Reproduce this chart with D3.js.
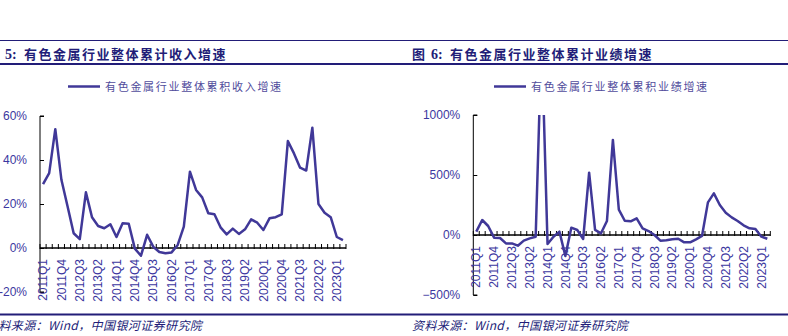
<!DOCTYPE html>
<html>
<head>
<meta charset="utf-8">
<script src="https://cdn.jsdelivr.net/npm/d3@7"></script>
<style>
  html, body { margin: 0; padding: 0; background: #fff; }
  svg { display: block; }
</style>
</head>
<body>
<svg id="chart" width="788" height="336"></svg>
<script>
// Quarterly categories shared by both panels
const quarters = [
  "2011Q1","2011Q2","2011Q3","2011Q4","2012Q1","2012Q2","2012Q3","2012Q4",
  "2013Q1","2013Q2","2013Q3","2013Q4","2014Q1","2014Q2","2014Q3","2014Q4",
  "2015Q1","2015Q2","2015Q3","2015Q4","2016Q1","2016Q2","2016Q3","2016Q4",
  "2017Q1","2017Q2","2017Q3","2017Q4","2018Q1","2018Q2","2018Q3","2018Q4",
  "2019Q1","2019Q2","2019Q3","2019Q4","2020Q1","2020Q2","2020Q3","2020Q4",
  "2021Q1","2021Q2","2021Q3","2021Q4","2022Q1","2022Q2","2022Q3","2022Q4",
  "2023Q1","2023Q2"
];

// Labelled quarters on the category axis (every third quarter)
const quarterTicks = [
  "2011Q1","2011Q4","2012Q3","2013Q2","2014Q1","2014Q4","2015Q3","2016Q2",
  "2017Q1","2017Q4","2018Q3","2019Q2","2020Q1","2020Q4","2021Q3","2022Q2","2023Q1"
];

// 有色金属行业整体累积收入增速 (%)
const revenueGrowth = [
  29, 34, 54, 31, 19, 6.7, 4, 25.3, 14, 10,
  9, 10.8, 5, 11.2, 11, -0.3, -3.5, 6, 0.6, -1.8,
  -2.4, -2, 1.4, 9.7, 34.7, 26.4, 23, 15.8, 15.3, 9.4,
  6.2, 8.8, 6.4, 8.5, 13, 11.5, 8.2, 13.5, 14, 15.3,
  48.6, 43, 36.5, 35.2, 54.7, 20, 16, 14, 5, 3.6
];

// 有色金属行业整体累积业绩增速 (%)
const profitGrowth = [
  28, 125, 75, -22, -25, -70, -70, -89, -47, -28,
  -14, 1650, -75, -14, 28, -175, 61, 42, -33, 519,
  42, 14, 117, 792, 211, 119, 114, 139, 56, 33,
  0, -47, -44, -36, -31, -61, -61, -36, -8, 272,
  347, 250, 186, 147, 117, 81, 56, 50, -14, -31
];

const revenueTicks = [-20, 0, 20, 40, 60];
const profitTicks = [-500, 0, 500, 1000];

const revenueTitle = "有色金属行业整体累计收入增速";
const profitTitle = "有色金属行业整体累计业绩增速";
const revenueLegend = "有色金属行业整体累积收入增速";
const profitLegend = "有色金属行业整体累积业绩增速";
const sourceText = "资料来源：Wind，中国银河证券研究院";

const LINE = "#403898";
const AXIS_TEXT = "#3c37a0";
const NAVY = "#221d78";
const NUM_FONT = "'Liberation Sans', Arial, sans-serif";
const CJK_FONT = "'Noto Sans CJK SC', 'Noto Sans', sans-serif";

const svg = d3.select("#chart");

// Header and footer rules
svg.append("line").attr("x1", 0).attr("x2", 788).attr("y1", 40.5).attr("y2", 40.5)
  .attr("stroke", NAVY).attr("stroke-width", 1);
svg.append("line").attr("x1", 0).attr("x2", 788).attr("y1", 64).attr("y2", 64)
  .attr("stroke", NAVY).attr("stroke-width", 2);
svg.append("line").attr("x1", 0).attr("x2", 788).attr("y1", 314.5).attr("y2", 314.5)
  .attr("stroke", NAVY).attr("stroke-width", 2);

const panels = [
  {
    id: "rev", num: "5:", title: revenueTitle, legend: revenueLegend,
    values: revenueGrowth, ticks: revenueTicks, tickFmt: d => d + "%",
    yDomain: [-20, 60], xRange: [40, 346], yRange: [292, 116],
    titleX: -14, legendX: 68, sourceX: -14
  },
  {
    id: "prof", num: "6:", title: profitTitle, legend: profitLegend,
    values: profitGrowth, ticks: profitTicks, tickFmt: d => (d < 0 ? "\u2212" + Math.abs(d) : d) + "%",
    yDomain: [-500, 1000], xRange: [473.3, 770.3], yRange: [295, 115],
    titleX: 412, legendX: 494, sourceX: 412
  }
];

panels.forEach(p => {
  const x = d3.scaleBand().domain(quarters).range(p.xRange).paddingInner(0).paddingOuter(0);
  const y = d3.scaleLinear().domain(p.yDomain).range(p.yRange);
  const g = svg.append("g");

  // Title
  const t = g.append("text").attr("y", 58.5).attr("fill", NAVY)
    .attr("font-weight", 700).attr("font-size", 13);
  t.append("tspan").attr("x", p.titleX).attr("font-family", CJK_FONT).text("图");
  t.append("tspan").attr("x", p.titleX + 19).attr("font-family", "'Liberation Serif', serif")
    .attr("font-size", 14).text(p.num);
  t.append("tspan").attr("x", p.titleX + 38).attr("font-family", CJK_FONT)
    .attr("letter-spacing", 1.5).text(p.title);

  // Legend
  g.append("line").attr("x1", p.legendX).attr("x2", p.legendX + 32)
    .attr("y1", 86.5).attr("y2", 86.5).attr("stroke", LINE).attr("stroke-width", 2.5);
  g.append("text").attr("x", p.legendX + 37).attr("y", 90.5)
    .attr("font-family", CJK_FONT).attr("font-size", 11).attr("letter-spacing", 1.7)
    .attr("fill", "#514c9c").text(p.legend);

  // Y axis with inward ticks
  const yAxis = d3.axisRight(y).tickValues(p.ticks).tickSize(4).tickFormat("");
  const ya = g.append("g").attr("transform", `translate(${p.xRange[0]},0)`).call(yAxis);
  ya.select(".domain").attr("stroke", "#000").attr("stroke-width", 1)
    .attr("d", `M4,${p.yRange[0]}H0V${p.yRange[1]}H4`);
  ya.selectAll(".tick line").attr("stroke", "#000");

  g.selectAll(".ylab").data(p.ticks).join("text")
    .attr("x", p.xRange[0] - 13).attr("y", d => y(d)).attr("dy", "0.35em")
    .attr("text-anchor", "end").attr("font-family", NUM_FONT).attr("font-size", 12)
    .attr("fill", AXIS_TEXT).text(p.tickFmt);

  // Category axis along zero with a tick at every quarter boundary
  const y0 = y(0);
  g.append("line").attr("x1", p.xRange[0]).attr("x2", p.xRange[1])
    .attr("y1", y0).attr("y2", y0).attr("stroke", "#000").attr("stroke-width", 1.5);
  const bounds = quarters.map(q => x(q)).concat([x(quarters[quarters.length - 1]) + x.bandwidth()]);
  g.selectAll(".qtick").data(bounds).join("line")
    .attr("x1", d => d).attr("x2", d => d).attr("y1", y0 - 4).attr("y2", y0 + 1)
    .attr("stroke", "#000").attr("stroke-width", 1);

  g.selectAll(".xlab").data(quarterTicks).join("text")
    .attr("transform", d => `translate(${x(d) + x.bandwidth() / 2},${y0 + 11}) rotate(-90)`)
    .attr("dy", "0.35em").attr("text-anchor", "end")
    .attr("font-family", NUM_FONT).attr("font-size", 12).attr("fill", AXIS_TEXT).text(d => d);

  // Series line, clipped to the plotting area
  svg.append("clipPath").attr("id", "clip-" + p.id).append("rect")
    .attr("x", p.xRange[0]).attr("y", p.yRange[1])
    .attr("width", p.xRange[1] - p.xRange[0] + 4).attr("height", p.yRange[0] - p.yRange[1]);
  const line = d3.line().x((d, i) => x(quarters[i]) + x.bandwidth() / 2).y(d => y(d));
  g.append("path").datum(p.values).attr("d", line)
    .attr("clip-path", `url(#clip-${p.id})`)
    .attr("fill", "none").attr("stroke", LINE).attr("stroke-width", 2.5)
    .attr("stroke-linejoin", "round");

  // Source note
  g.append("text").attr("x", p.sourceX).attr("y", 330)
    .attr("font-family", CJK_FONT).attr("font-size", 12).attr("font-style", "italic")
    .attr("letter-spacing", 0.4).attr("fill", NAVY).text(sourceText);
});
</script>
</body>
</html>
